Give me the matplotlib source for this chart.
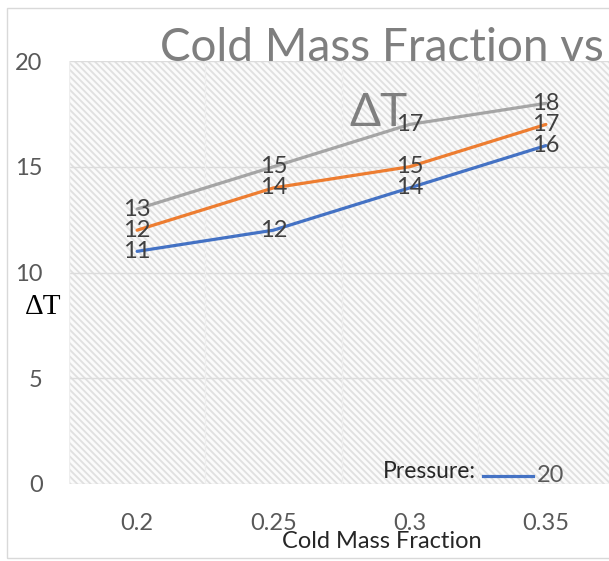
import numpy as np
import matplotlib.pyplot as plt
from matplotlib.patches import Rectangle

# ------------------ data ------------------
fractions = ["0.2", "0.25", "0.3", "0.35"]
dt_20 = [11, 12, 14, 16]
dt_mid = [12, 14, 15, 17]
dt_high = [13, 15, 17, 18]
y_ticks = [0, 5, 10, 15, 20]

series = [
    (dt_20, "#4472C4"),
    (dt_mid, "#ED7D31"),
    (dt_high, "#A5A5A5"),
]

plt.rcParams['font.family'] = ['Lato', 'DejaVu Sans']
plt.rcParams['hatch.color'] = '#e0e0e0'
plt.rcParams['hatch.linewidth'] = 1.3

W, H = 609, 561
fig = plt.figure(figsize=(W / 100, H / 100), dpi=100)

# outer chart border
fig.add_artist(Rectangle((7 / W, 1 - 558 / H), 1.2, (558 - 8) / H,
                         transform=fig.transFigure, fill=False,
                         edgecolor='#d9d9d9', lw=1))

left, right, top, bottom = 69, 614, 61, 484
ax = fig.add_axes([left / W, 1 - bottom / H, (right - left) / W, (bottom - top) / H])

x = np.arange(len(fractions))
ax.set_xlim(-0.5, len(fractions) - 0.5)
ax.set_ylim(0, 20)

# hatched plot area
ax.add_patch(Rectangle((0, 0), 1, 1, transform=ax.transAxes, facecolor='#fbfbfb',
                       hatch='\\\\\\\\\\', lw=0, zorder=0))

for yv in y_ticks:
    ax.axhline(yv, color='#dcdcdc', lw=1, zorder=1)
for xv in np.arange(-0.5, len(fractions), 1.0):
    ax.axvline(xv, color='#eeeeee', lw=1, zorder=1)

for vals, col in series:
    ax.plot(x, vals, color=col, lw=2.3, solid_capstyle='round', zorder=3)
    for xi, v in zip(x, vals):
        ax.text(xi, v, str(v), ha='center', va='center', fontsize=17,
                color='#404040', zorder=4)

for s in ax.spines.values():
    s.set_visible(False)
ax.tick_params(length=0, labelsize=17, labelcolor='#595959')
ax.tick_params(axis='x', pad=21)
ax.tick_params(axis='y', pad=19)
ax.set_xticks(x)
ax.set_xticklabels(fractions)
ax.set_yticks(y_ticks)

# title (wrapped, clipped at right as in the original)
fig.text(160 / W, 1 - 48 / H, "Cold Mass Fraction vs", ha='left', va='center',
         fontsize=33, color='#7f7f7f')
fig.text(378 / W, 1 - 113 / H, "\u0394T", ha='center', va='center',
         fontsize=33, color='#7f7f7f')

fig.text(382 / W, 1 - 541 / H, "Cold Mass Fraction", ha='center', va='center',
         fontsize=17, color='#262626')
fig.text(43 / W, 1 - 307 / H, "\u0394T", ha='center', va='center',
         fontsize=21, color='#000000', family='Liberation Serif')

# legend (truncated in the original)
fig.text(476 / W, 1 - 471 / H, "Pressure:", ha='right', va='center',
         fontsize=16.5, color='#262626')
fig.add_artist(plt.Line2D([483 / W, 533 / W], [1 - 476 / H, 1 - 476 / H],
                          transform=fig.transFigure, color="#4472C4", lw=2.3))
fig.text(537 / W, 1 - 476 / H, "20", ha='left', va='center',
         fontsize=17, color='#595959')

fig.savefig("out.png", dpi=100)
